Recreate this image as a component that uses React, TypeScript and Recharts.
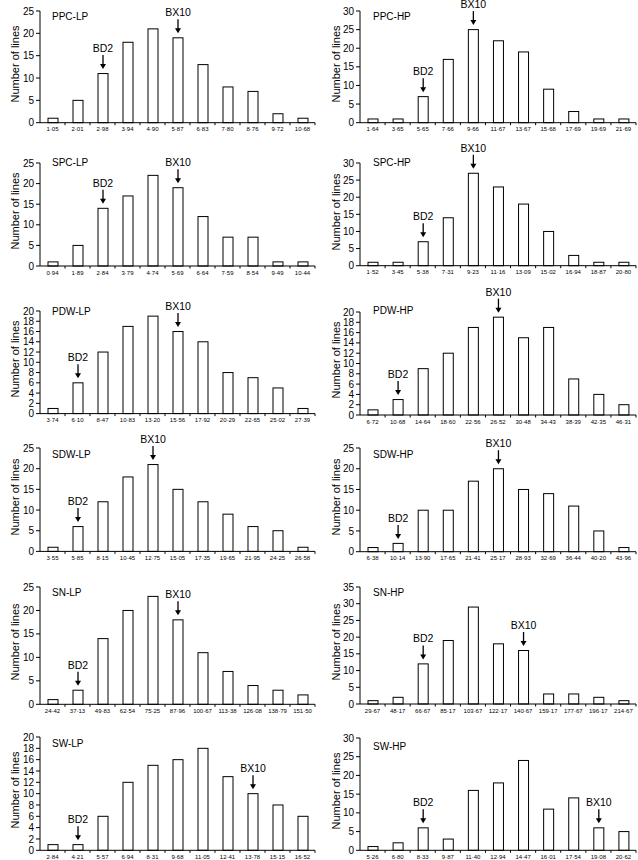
import React from 'react';
import { BarChart, Bar, XAxis, YAxis } from 'recharts';

const FONT = '"Liberation Sans", Arial, Helvetica, sans-serif';

// bin labels, counts and marked bins (index of BD2 / BX10) per trait
const ppcLpBins = ['1·05', '2·01', '2·98', '3·94', '4·90', '5·87', '6·83', '7·80', '8·76', '9·72', '10·68'];
const ppcLpCounts = [1, 5, 11, 18, 21, 19, 13, 8, 7, 2, 1];
const ppcLpMarks = [2, 5];

const ppcHpBins = ['1·64', '3·65', '5·65', '7·66', '9·66', '11·67', '13·67', '15·68', '17·69', '19·69', '21·69'];
const ppcHpCounts = [1, 1, 7, 17, 25, 22, 19, 9, 3, 1, 1];
const ppcHpMarks = [2, 4];

const spcLpBins = ['0·94', '1·89', '2·84', '3·79', '4·74', '5·69', '6·64', '7·59', '8·54', '9·49', '10·44'];
const spcLpCounts = [1, 5, 14, 17, 22, 19, 12, 7, 7, 1, 1];
const spcLpMarks = [2, 5];

const spcHpBins = ['1·52', '3·45', '5·38', '7·31', '9·23', '11·16', '13·09', '15·02', '16·94', '18·87', '20·80'];
const spcHpCounts = [1, 1, 7, 14, 27, 23, 18, 10, 3, 1, 1];
const spcHpMarks = [2, 4];

const pdwLpBins = ['3·74', '6·10', '8·47', '10·83', '13·20', '15·56', '17·92', '20·29', '22·65', '25·02', '27·39'];
const pdwLpCounts = [1, 6, 12, 17, 19, 16, 14, 8, 7, 5, 1];
const pdwLpMarks = [1, 5];

const pdwHpBins = ['6·72', '10·68', '14·64', '18·60', '22·56', '26·52', '30·48', '34·43', '38·39', '42·35', '46·31'];
const pdwHpCounts = [1, 3, 9, 12, 17, 19, 15, 17, 7, 4, 2];
const pdwHpMarks = [1, 5];

const sdwLpBins = ['3·55', '5·85', '8·15', '10·45', '12·75', '15·05', '17·35', '19·65', '21·95', '24·25', '26·58'];
const sdwLpCounts = [1, 6, 12, 18, 21, 15, 12, 9, 6, 5, 1];
const sdwLpMarks = [1, 4];

const sdwHpBins = ['6·38', '10·14', '13·90', '17·65', '21·41', '25·17', '28·93', '32·69', '36·44', '40·20', '43·96'];
const sdwHpCounts = [1, 2, 10, 10, 17, 20, 15, 14, 11, 5, 1];
const sdwHpMarks = [1, 5];

const snLpBins = ['24·42', '37·13', '49·83', '62·54', '75·25', '87·96', '100·67', '113·38', '126·08', '138·79', '151·50'];
const snLpCounts = [1, 3, 14, 20, 23, 18, 11, 7, 4, 3, 2];
const snLpMarks = [1, 5];

const snHpBins = ['29·67', '48·17', '66·67', '85·17', '103·67', '122·17', '140·67', '159·17', '177·67', '196·17', '214·67'];
const snHpCounts = [1, 2, 12, 19, 29, 18, 16, 3, 3, 2, 1];
const snHpMarks = [2, 6];

const swLpBins = ['2·84', '4·21', '5·57', '6·94', '8·31', '9·68', '11·05', '12·41', '13·78', '15·15', '16·52'];
const swLpCounts = [1, 1, 6, 12, 15, 16, 18, 13, 10, 8, 6];
const swLpMarks = [1, 8];

const swHpBins = ['5·26', '6·80', '8·33', '9·87', '11·40', '12·94', '14·47', '16·01', '17·54', '19·08', '20·62'];
const swHpCounts = [1, 2, 6, 3, 16, 18, 24, 11, 14, 6, 5];
const swHpMarks = [2, 9];

const yTicks20 = [0, 2, 4, 6, 8, 10, 12, 14, 16, 18, 20];
const yTicks25 = [0, 5, 10, 15, 20, 25];
const yTicks30 = [0, 5, 10, 15, 20, 25, 30];
const yTicks35 = [0, 5, 10, 15, 20, 25, 30, 35];

const markNames = ['BD2', 'BX10'];

type Panel = {
  title: string;
  bins: string[];
  counts: number[];
  marks: number[];
  ticks: number[];
  col: number;
  top: number;
  bottom: number;
  titleY: number;
};

const panels: Panel[] = [
  { title: 'PPC-LP', bins: ppcLpBins, counts: ppcLpCounts, marks: ppcLpMarks, ticks: yTicks25, col: 0, top: 11, bottom: 122.7, titleY: 16.7 },
  { title: 'PPC-HP', bins: ppcHpBins, counts: ppcHpCounts, marks: ppcHpMarks, ticks: yTicks30, col: 1, top: 11, bottom: 122.7, titleY: 16.7 },
  { title: 'SPC-LP', bins: spcLpBins, counts: spcLpCounts, marks: spcLpMarks, ticks: yTicks25, col: 0, top: 162.7, bottom: 265.7, titleY: 163.3 },
  { title: 'SPC-HP', bins: spcHpBins, counts: spcHpCounts, marks: spcHpMarks, ticks: yTicks30, col: 1, top: 163.3, bottom: 266, titleY: 163.3 },
  { title: 'PDW-LP', bins: pdwLpBins, counts: pdwLpCounts, marks: pdwLpMarks, ticks: yTicks20, col: 0, top: 310.7, bottom: 413.3, titleY: 311.7 },
  { title: 'PDW-HP', bins: pdwHpBins, counts: pdwHpCounts, marks: pdwHpMarks, ticks: yTicks20, col: 1, top: 311.7, bottom: 414.7, titleY: 310.7 },
  { title: 'SDW-LP', bins: sdwLpBins, counts: sdwLpCounts, marks: sdwLpMarks, ticks: yTicks25, col: 0, top: 448.3, bottom: 551.7, titleY: 455 },
  { title: 'SDW-HP', bins: sdwHpBins, counts: sdwHpCounts, marks: sdwHpMarks, ticks: yTicks25, col: 1, top: 448.3, bottom: 552, titleY: 455 },
  { title: 'SN-LP', bins: snLpBins, counts: snLpCounts, marks: snLpMarks, ticks: yTicks25, col: 0, top: 586.7, bottom: 704, titleY: 593.3 },
  { title: 'SN-HP', bins: snHpBins, counts: snHpCounts, marks: snHpMarks, ticks: yTicks35, col: 1, top: 586.7, bottom: 703.7, titleY: 592.7 },
  { title: 'SW-LP', bins: swLpBins, counts: swLpCounts, marks: swLpMarks, ticks: yTicks20, col: 0, top: 736.7, bottom: 850, titleY: 744.3 },
  { title: 'SW-HP', bins: swHpBins, counts: swHpCounts, marks: swHpMarks, ticks: yTicks30, col: 1, top: 737.7, bottom: 850, titleY: 746.7 },
];

const COLS = [
  { left: 0, width: 319, axisW: 40, marginR: 4, titleX: 52, labelX: 15 },
  { left: 318, width: 320, axisW: 42, marginR: 2, titleX: 373, labelX: 336 },
];

const PAD_TOP = 34;
const X_H = 16;

// bar with an optional arrow + label above it
const ArrowBar = (props: any) => {
  const { x, y, width, height, payload } = props;
  const cx = x + width / 2;
  return (
    <g>
      <rect x={x} y={y} width={width} height={height} fill="#fff" stroke="#000" strokeWidth={1} />
      {payload.mark ? (
        <g>
          <line x1={cx} x2={cx} y1={y - 18.5} y2={y - 8.5} stroke="#000" strokeWidth={1.3} />
          <polygon points={`${cx - 3},${y - 9.5} ${cx + 3},${y - 9.5} ${cx},${y - 4.5}`} fill="#000" />
          <text x={cx} y={y - 21.5} textAnchor="middle" fontSize={10.5} fill="#000">
            {payload.mark}
          </text>
        </g>
      ) : null}
    </g>
  );
};

const makeTick = (band: number) => (props: any) => {
  const { x, y, payload } = props;
  return (
    <g>
      <text x={x} y={y + 8.8} textAnchor="middle" fontSize={6} fill="#000">
        {payload.value}
      </text>
      <line x1={x + band / 2} x2={x + band / 2} y1={y} y2={y + 2.5} stroke="#000" strokeWidth={1} />
    </g>
  );
};

const HistPanel = ({ p }: { p: Panel }) => {
  const col = COLS[p.col];
  const plotH = p.bottom - p.top;
  const h = PAD_TOP + plotH + X_H;
  const plotW = col.width - col.axisW - col.marginR;
  const band = plotW / p.bins.length;
  const rows = p.bins.map((b, i) => ({
    bin: b,
    count: p.counts[i],
    mark: p.marks[0] === i ? markNames[0] : p.marks[1] === i ? markNames[1] : '',
  }));
  const yMax = p.ticks[p.ticks.length - 1];

  return (
    <>
      <div style={{ position: 'absolute', left: col.left, top: p.top - PAD_TOP, width: col.width, height: h }}>
        <BarChart
          width={col.width}
          height={h}
          data={rows}
          margin={{ top: PAD_TOP, right: col.marginR, bottom: 0, left: 0 }}
          barSize={10}
        >
          <XAxis
            dataKey="bin"
            interval={0}
            tickSize={0}
            tickMargin={0}
            height={X_H}
            tickLine={false}
            axisLine={{ stroke: '#000' }}
            tick={makeTick(band)}
          />
          <YAxis
            width={col.axisW}
            domain={[0, yMax]}
            ticks={p.ticks}
            interval={0}
            tickSize={4}
            tickMargin={2}
            tick={{ fontSize: 10, fill: '#000' }}
            axisLine={{ stroke: '#000' }}
            tickLine={{ stroke: '#000' }}
          />
          <Bar dataKey="count" isAnimationActive={false} shape={ArrowBar} />
        </BarChart>
      </div>
      <div
        style={{
          position: 'absolute',
          left: col.titleX,
          top: p.titleY - 6,
          fontSize: 10,
          lineHeight: '12px',
          whiteSpace: 'nowrap',
        }}
      >
        {p.title}
      </div>
      <div
        style={{
          position: 'absolute',
          left: col.labelX,
          top: (p.top + p.bottom) / 2 - 3,
          fontSize: 11,
          lineHeight: '11px',
          whiteSpace: 'nowrap',
          transform: 'translate(-50%, -50%) rotate(-90deg)',
        }}
      >
        Number of lines
      </div>
    </>
  );
};

export default function App() {
  return (
    <div
      style={{
        position: 'absolute',
        left: 0,
        top: 0,
        width: 638,
        height: 860,
        background: '#fff',
        fontFamily: FONT,
        color: '#000',
        overflow: 'hidden',
      }}
    >
      {panels.map((p) => (
        <HistPanel key={p.title} p={p} />
      ))}
    </div>
  );
}
